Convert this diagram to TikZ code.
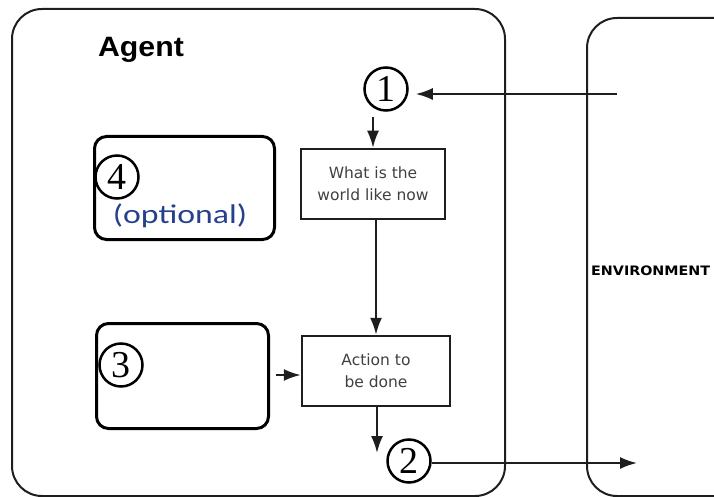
\documentclass[tikz,border=0pt]{standalone}
\usepackage{fontspec}
\usepackage{graphicx}
\usetikzlibrary{arrows.meta}
\newfontfamily\agentfont{Liberation Sans}
\newfontfamily\boxfont{DejaVu Sans}
\newfontfamily\notefont{Carlito}
\newfontfamily\numfont{Liberation Serif}
\definecolor{edgecol}{HTML}{1E1E1E}
\definecolor{boxtext}{HTML}{404040}
\definecolor{notecol}{HTML}{26408C}

\tikzset{
  frame/.style={draw=edgecol, line width=2pt, rounded corners=30pt, anchor=north west, inner sep=0pt},
  module/.style={draw=black, line width=3pt, rounded corners=12pt, anchor=north west, inner sep=0pt},
  stepbox/.style={draw=edgecol, line width=2.5pt, align=center, inner sep=0pt,
    text=boxtext, font=\boxfont\fontsize{15.5}{22}\selectfont},
  numcircle/.style={circle, draw=black, line width=2.5pt, minimum size=43pt, inner sep=0pt,
    font=\numfont\fontsize{38}{38}\selectfont},
  conn/.style={draw=edgecol, line width=2pt, -{Latex[length=17pt,width=12pt]}}
}

\begin{document}
\begin{tikzpicture}[x=1pt, y=-1pt]
  \useasboundingbox (0,0) rectangle (714,497);

  % agent and environment frames
  \node[frame, minimum width=493pt, minimum height=487pt] (agent) at (11,8) {};
  \node[frame, minimum width=170pt, minimum height=478pt] (env) at (586,17) {};

  \node (agentlabel) at (141,50) {\scalebox{1.08}[1]{\agentfont\bfseries\fontsize{28}{28}\selectfont Agent}};
  \node[anchor=west, inner sep=0pt] (envlabel) at (591,271)
    {\scalebox{1.1}[1]{\boxfont\bfseries\fontsize{13}{13}\selectfont ENVIRONMENT}};

  % side modules
  \node[module, minimum width=180pt, minimum height=103pt] (box4) at (93,135) {};
  \node[module, minimum width=172pt, minimum height=105pt] (box3) at (95,322) {};

  % processing steps
  \node[stepbox, minimum width=144pt, minimum height=70pt] (world) at (373,184)
    {What is the\\world like now};
  \node[stepbox, minimum width=148pt, minimum height=70pt] (action) at (376,371)
    {Action to\\be done};

  % numbered markers
  \node[numcircle] (c1) at (386,89) {1};
  \node[numcircle] (c2) at (409,461) {2};
  \node[numcircle] (c3) at (121,365) {3};
  \node[numcircle] (c4) at (117,177) {4};

  \node (optional) at (180,216)
    {\scalebox{1.25}[1]{\notefont\fontsize{27}{27}\selectfont\color{notecol}(optional)}};

  % connectors
  \coordinate (envin) at (617,94);
  \coordinate (envout) at (637,463);
  \coordinate (outtip) at (377,453);

  \draw[conn, shorten >=7pt] (envin) -- (envin -| c1.east);
  \draw[conn, shorten <=5pt] (world.north |- c1.south) -- (world.north);
  \draw[conn] (action.north |- world.south) -- (action.north);
  \draw[conn, shorten <=6pt] (box3.east |- 0,375) -- (action.west |- 0,375);
  \draw[conn] (outtip |- action.south) -- (outtip);
  \draw[conn] (c2.east |- envout) -- (envout);
\end{tikzpicture}
\end{document}
